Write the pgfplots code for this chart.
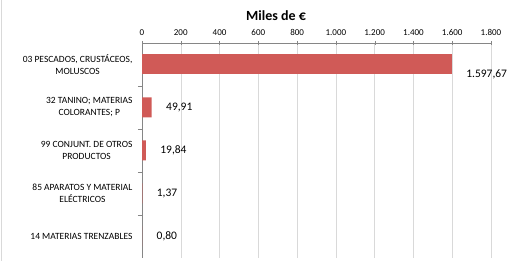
\documentclass[border=0pt]{standalone}
\usepackage{pgfplots}
\pgfplotsset{compat=1.18}
\usepackage{fontspec}
\setmainfont{Carlito}
\definecolor{barred}{HTML}{D05A57}
\definecolor{gridc}{HTML}{D9D9D9}
\definecolor{axc}{HTML}{868686}
\begin{document}
\begin{tikzpicture}[x=1pt,y=1pt]
\path[use as bounding box] (0,0) rectangle (517,261);
\draw[gridc] (1.5,0) -- (1.5,261);
\begin{axis}[
  at={(142pt,3pt)}, anchor=south west,
  scale only axis, width=349pt, height=215pt,
  xmin=0, xmax=1800, ymin=-0.5, ymax=4.5,
  xtick={0,200,...,1800},
  axis x line*=top, axis y line*=left,
  axis line style={draw=axc},
  tick style={draw=axc},
  major tick length=4pt,
  xtick align=center,
  ytick align=outside,
  xmajorgrids, grid style={draw=gridc},
  xticklabel style={font=\fontsize{9}{10}\selectfont, yshift=2pt},
  /pgf/number format/assume math mode=true,
  /pgf/number format/1000 sep={.},
  ytick={0.5,1.5,2.5,3.5},
  yticklabels={},
  extra y ticks={0,1,2,3,4},
  extra y tick labels={14 MATERIAS TRENZABLES,{85 APARATOS Y MATERIAL\\ELÉCTRICOS},{99 CONJUNT. DE OTROS\\PRODUCTOS},{32 TANINO; MATERIAS\\COLORANTES; P},{03 PESCADOS, CRUSTÁCEOS,\\MOLUSCOS}},
  extra y tick style={major tick length=0pt, tick label style={font=\fontsize{9.5}{12}\selectfont, align=center, xshift=-6pt}},
  xbar, bar width=20pt,
  point meta=x,
  nodes near coords={\pgfmathprintnumber[fixed,fixed zerofill,precision=2,use comma,1000 sep={.},assume math mode=true]{\pgfplotspointmeta}},
  every node near coord/.append style={font=\fontsize{11.5}{13}\selectfont, anchor=west, xshift=11pt, text=black},
  clip=false,
]
\addplot[fill=barred, draw=none, bar shift=0pt, every node near coord/.append style={yshift=-10pt}] coordinates {(1597.67,4)};
\addplot[fill=barred, draw=none, bar shift=0pt] coordinates {(49.91,3) (19.84,2) (1.37,1) (0.80,0)};
\end{axis}
\node[font=\bfseries\fontsize{14}{16}\selectfont] at (276,245) {Miles de €};
\end{tikzpicture}
\end{document}
